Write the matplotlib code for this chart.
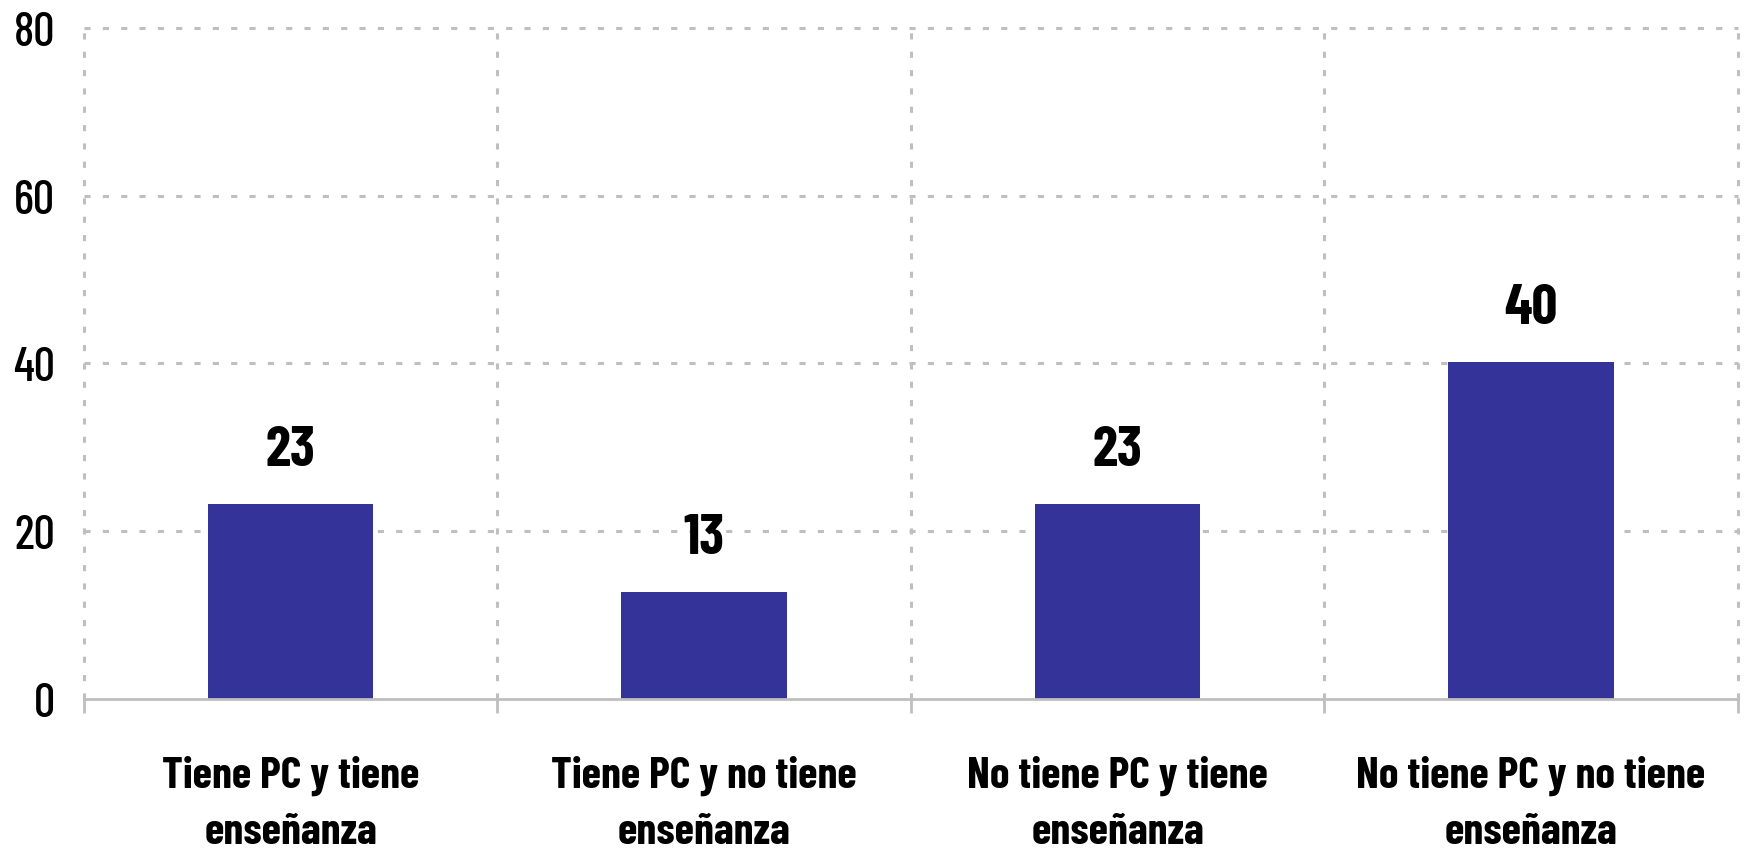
import matplotlib
matplotlib.use("Agg")
import matplotlib.pyplot as plt
import numpy as np

# Data
categories = ["Tiene PC y tiene\nenseñanza", "Tiene PC y no tiene\nenseñanza",
              "No tiene PC y tiene\nenseñanza", "No tiene PC y no tiene\nenseñanza"]
values = [23.2, 12.8, 23.2, 40.2]
yticks = [0, 20, 40, 60, 80]

plt.rcParams['font.family'] = ['Barlow Condensed', 'DejaVu Sans']

fig = plt.figure(figsize=(17.5, 8.54), dpi=100)
ax = fig.add_axes([0.048, 0.1803, 0.945, 0.786])

x = np.arange(len(categories))
bars = ax.bar(x, values, width=0.40, color="#333399", zorder=3)

for b, v in zip(bars, values):
    ax.annotate("%.0f" % v, (b.get_x() + b.get_width() / 2, v),
                xytext=(0, 28), textcoords="offset points",
                ha="center", va="baseline", fontsize=41, fontweight="bold")

grid_kw = dict(color="#BFBFBF", lw=2.2, ls=(0, (2, 4)), clip_on=False, zorder=1)
for y in yticks[1:]:
    ax.axhline(y, **grid_kw)
for xb in np.arange(-0.5, len(categories), 1.0):
    ax.axvline(xb, **grid_kw)

ax.set_xlim(-0.5, len(categories) - 0.5)
ax.set_ylim(0, 80)
ax.set_yticks(yticks)
ax.set_yticklabels([str(t) for t in yticks], fontweight=500)
ax.set_xticks(x)
ax.set_xticklabels(categories, fontsize=32, fontweight="bold", linespacing=1.55)
ax.set_xticks(np.arange(-0.5, len(categories), 1.0), minor=True)

ax.tick_params(axis="x", which="major", length=0, pad=40)
ax.tick_params(axis="x", which="minor", length=10, width=2, color="#BFBFBF")
ax.tick_params(axis="y", length=0, pad=21, labelsize=34)

for s in ["top", "right", "left"]:
    ax.spines[s].set_visible(False)
ax.spines["bottom"].set_color("#BFBFBF")
ax.spines["bottom"].set_linewidth(2)
ax.spines["bottom"].set_zorder(4)

fig.savefig("out.png", dpi=100)
